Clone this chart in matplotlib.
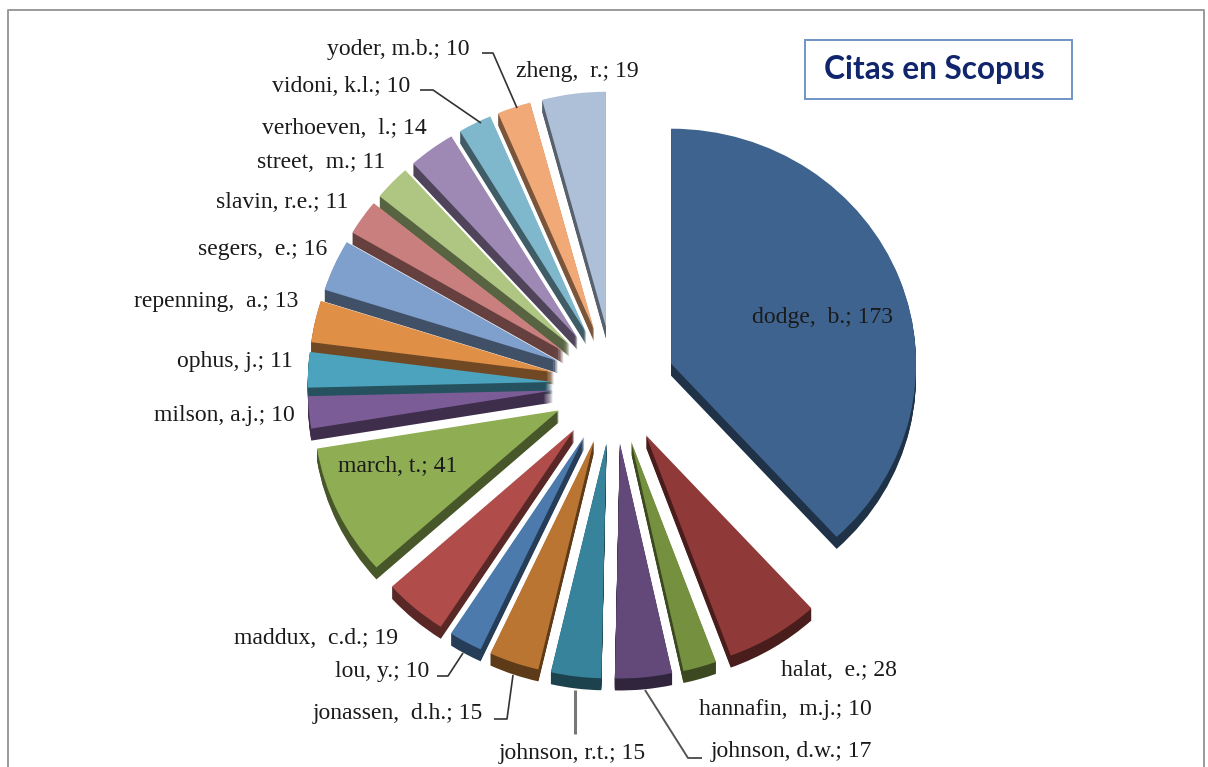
import matplotlib
matplotlib.use("Agg")
import matplotlib.pyplot as plt
from matplotlib.colors import to_rgb
from matplotlib.patches import Rectangle

authors = ["dodge,  b.", "halat,  e.", "hannafin,  m.j.", "johnson, d.w.", "johnson, r.t.",
           "jonassen,  d.h.", "lou, y.", "maddux,  c.d.", "march, t.", "milson, a.j.",
           "ophus, j.", "repenning,  a.", "segers,  e.", "slavin, r.e.", "street,  m.",
           "verhoeven,  l.", "vidoni, k.l.", "yoder, m.b.", "zheng,  r."]
citas = [173, 28, 10, 17, 15, 15, 10, 19, 41, 10, 11, 13, 16, 11, 11, 14, 10, 10, 19]
colors = ["#3E638F", "#8F3A38", "#75903F", "#62497A", "#37839B", "#B97531", "#4C7AAD",
          "#B04D4B", "#8FAD52", "#7C5C97", "#4BA3BD", "#E08F46", "#7F9FCC", "#C97F7D",
          "#AFC682", "#9E88B4", "#7FB8CC", "#F2A978", "#AEBFD8"]
label_x = [822, 839, 785, 791, 572, 398, 382, 316, 398, 224, 235, 216, 263, 282, 321, 344, 341, 398, 577]
label_y = [317, 670, 710, 752, 754, 714, 672, 638, 466, 416, 362, 302, 250, 202, 163, 128, 87, 50, 72]

W, H = 1208, 767
CX, CY, RX, RY, DEPTH = 614, 385, 245, 235, 12
explode = [0.25] * len(citas)

fig = plt.figure(figsize=(W / 100, H / 100), dpi=100, facecolor="white")
ax = fig.add_axes([0, 0, 1, 1])
ax.set_axis_off()


def dark(c, f=0.5):
    return tuple(v * f for v in to_rgb(c))


# extruded sides, then the top faces
side = [dark(c) for c in colors]
for d in range(DEPTH, 0, -1):
    ax.pie(citas, colors=side, explode=explode, startangle=90, counterclock=False,
           center=(0, -d / RY), radius=1, frame=True, normalize=True,
           wedgeprops=dict(linewidth=0))
ax.pie(citas, colors=colors, explode=explode, startangle=90, counterclock=False,
       center=(0, 0), radius=1, frame=True,
       wedgeprops=dict(linewidth=0))
ax.set_aspect("auto")
ax.set_xlim(-CX / RX, (W - CX) / RX)
ax.set_ylim(-(H - CY) / RY, CY / RY)
ax.set_axis_off()

ov = fig.add_axes([0, 0, 1, 1], facecolor="none")
ov.set_xlim(0, W)
ov.set_ylim(H, 0)
ov.set_axis_off()

for name, v, x, y in zip(authors, citas, label_x, label_y):
    ov.text(x, y, f"{name}; {v}", ha="center", va="center", fontsize=17,
            family="Liberation Serif", color="#1a1a1a")

leaders = [([482, 493, 517], [53, 53, 108], 1.2, "#333333"),
           ([420, 433, 481], [90, 90, 123], 1.2, "#333333"),
           ([437, 448, 463], [676, 676, 653], 1.2, "#333333"),
           ([494, 507, 513], [719, 719, 675], 1.2, "#333333"),
           ([575, 575], [690, 734], 2.2, "#777777"),
           ([645, 688, 702], [690, 758, 758], 1.4, "#555555")]
for xs, ys, lw, col in leaders:
    ov.plot(xs, ys, color=col, lw=lw, solid_capstyle="butt")

# outer frame of the screenshot
ov.plot([8, 8, 1204, 1204], [H, 10, 10, H], color="#9a9a9a", lw=1.4)

ov.add_patch(Rectangle((805, 40), 267, 59, fc="white", ec="#6F94C6", lw=1.4))
ov.text(934, 70, "Citas en Scopus", ha="center", va="center", fontsize=22.8,
        family="Lato", fontweight="bold", color="#10256B")

fig.savefig("out.png", dpi=100)
